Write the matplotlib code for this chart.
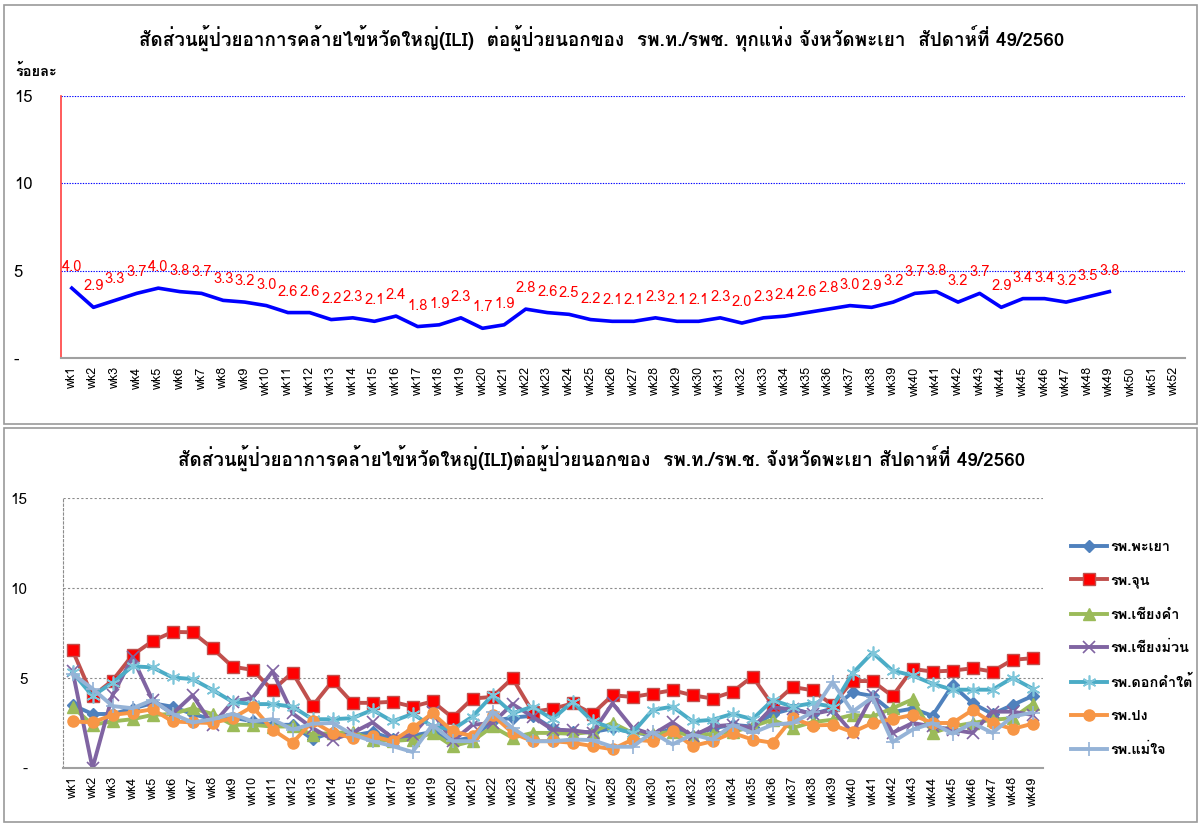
import matplotlib
matplotlib.use("Agg")
import matplotlib.pyplot as plt
from matplotlib import font_manager, ft2font
from matplotlib.patches import Rectangle
import numpy as np

# ---------- font with Thai glyphs ----------
def find_thai_family():
    found = []
    for fe in font_manager.fontManager.ttflist:
        try:
            f = ft2font.FT2Font(fe.fname)
            if 0x0E2A in f.get_charmap():
                found.append(fe.name)
        except Exception:
            pass
    return found

thai = find_thai_family()
fams = []
for n in thai:
    if n not in fams:
        fams.append(n)
plt.rcParams['font.family'] = (fams[:1] if fams else []) + ['DejaVu Sans']

# ---------- data ----------
weeks_top = [f"wk{i}" for i in range(1, 53)]
overall = [4.0, 2.9, 3.3, 3.7, 4.0, 3.8, 3.7, 3.3, 3.2, 3.0,
           2.6, 2.6, 2.2, 2.3, 2.1, 2.4, 1.8, 1.9, 2.3, 1.7,
           1.9, 2.8, 2.6, 2.5, 2.2, 2.1, 2.1, 2.3, 2.1, 2.1,
           2.3, 2.0, 2.3, 2.4, 2.6, 2.8, 3.0, 2.9, 3.2, 3.7,
           3.8, 3.2, 3.7, 2.9, 3.4, 3.4, 3.2, 3.5, 3.8]

weeks_bot = [f"wk{i}" for i in range(1, 50)]
phayao = [3.5, 3.0, 3.0, 3.3, 3.6, 3.4, 3.0, 2.7, 2.8, 2.6,
          2.4, 2.4, 1.6, 2.0, 1.8, 2.0, 1.6, 1.8, 2.0, 1.5,
          1.7, 2.6, 2.8, 2.9, 2.2, 2.0, 2.0, 2.2, 2.0, 1.8,
          2.2, 1.8, 2.2, 2.4, 2.3, 3.0, 3.3, 3.0, 3.3, 4.2,
          4.0, 3.1, 3.3, 2.9, 4.6, 3.6, 3.0, 3.5, 4.0]
chun = [6.54, 3.99, 4.86, 6.27, 7.05, 7.56, 7.54, 6.65, 5.63, 5.45,
        4.32, 5.30, 3.44, 4.83, 3.62, 3.62, 3.68, 3.41, 3.70, 2.80,
        3.86, 3.95, 4.99, 3.13, 3.28, 3.59, 3.01, 4.04, 3.95, 4.13,
        4.32, 4.04, 3.86, 4.23, 5.08, 3.50, 4.50, 4.32, 3.50, 4.83,
        4.83, 3.99, 5.50, 5.36, 5.41, 5.54, 5.36, 6.01, 6.10]
chiangkham = [3.41, 2.40, 2.59, 2.71, 2.95, 3.0, 3.32, 3.0, 2.40, 2.40,
              2.3, 2.31, 1.86, 1.95, 1.99, 1.58, 1.5, 1.58, 1.95, 1.22,
              1.49, 2.31, 1.68, 1.95, 1.95, 1.9, 2.0, 2.50, 1.95, 1.9,
              2.0, 1.8, 1.9, 2.0, 2.31, 2.68, 2.22, 2.55, 2.68, 2.95,
              2.86, 3.32, 3.81, 1.95, 2.31, 2.50, 2.68, 2.77, 3.55]
chiangmuan = [5.41, 0.0, 4.04, 6.14, 3.77, 3.01, 4.04, 2.40, 3.68, 3.9,
              5.37, 3.04, 2.22, 1.58, 1.95, 2.53, 1.68, 1.86, 3.1, 1.49,
              2.40, 2.50, 3.55, 2.86, 2.13, 2.09, 1.95, 3.59, 2.22, 1.86,
              2.53, 1.77, 2.31, 2.40, 2.22, 3.37, 3.26, 3.0, 3.22, 1.95,
              4.04, 1.95, 2.50, 2.31, 2.13, 1.95, 3.13, 3.13, 2.95]
dokkhamtai = [5.32, 4.0, 4.74, 5.65, 5.59, 5.03, 4.94, 4.34, 3.68, 3.55,
              3.55, 3.41, 2.71, 2.71, 2.77, 3.23, 2.59, 3.01, 2.31, 2.13,
              2.86, 4.04, 3.04, 3.41, 2.71, 3.68, 2.59, 2.22, 1.95, 3.22,
              3.41, 2.59, 2.68, 3.01, 2.71, 3.77, 3.41, 3.6, 3.41, 5.26,
              6.41, 5.41, 5.14, 4.68, 4.35, 4.35, 4.35, 5.01, 4.41]
pong = [2.59, 2.53, 2.95, 3.08, 3.26, 2.59, 2.53, 2.50, 2.77, 3.41,
        2.13, 1.40, 2.59, 1.95, 1.68, 1.77, 1.49, 2.22, 3.04, 2.04,
        1.77, 2.95, 1.95, 1.49, 1.49, 1.40, 1.22, 1.04, 1.58, 1.49,
        2.04, 1.22, 1.49, 1.95, 1.58, 1.40, 2.77, 2.36, 2.40, 1.99,
        2.50, 2.71, 2.95, 2.50, 2.50, 3.22, 2.50, 2.17, 2.46]
maechai = [5.23, 4.41, 3.44, 3.32, 3.77, 3.01, 2.53, 2.71, 3.01, 2.59,
           2.71, 2.13, 2.46, 2.50, 1.86, 1.49, 1.22, 0.89, 2.40, 1.49,
           1.49, 3.13, 2.22, 1.49, 1.49, 1.58, 1.55, 1.18, 1.18, 1.99,
           1.31, 1.86, 1.58, 2.40, 1.95, 2.40, 2.50, 3.1, 4.77, 3.13,
           3.92, 1.44, 2.13, 2.50, 1.91, 2.50, 1.95, 2.86, 3.08]

series_names = ["รพ.พะเยา", "รพ.จุน", "รพ.เชียงคำ", "รพ.เชียงม่วน",
                "รพ.ดอกคำใต้", "รพ.ปง", "รพ.แม่ใจ"]
series_vals = [phayao, chun, chiangkham, chiangmuan, dokkhamtai, pong, maechai]

yticks = [0, 5, 10, 15]
ytick_labels = ["-", "5", "10", "15"]

title_top = "สัดส่วนผู้ป่วยอาการคล้ายไข้หวัดใหญ่(ILI)  ต่อผู้ป่วยนอกของ  รพ.ท./รพช. ทุกแห่ง จังหวัดพะเยา  สัปดาห์ที่ 49/2560"
title_bot = "สัดส่วนผู้ป่วยอาการคล้ายไข้หวัดใหญ่(ILI)ต่อผู้ป่วยนอกของ  รพ.ท./รพ.ช. จังหวัดพะเยา สัปดาห์ที่ 49/2560"

W, H = 1202, 825
fig = plt.figure(figsize=(W / 100, H / 100), dpi=100)
fig.patch.set_facecolor("white")

def fx(px):
    return px / W

def fy(py):
    return 1 - py / H

# panel borders
for (x0, y0, x1, y1) in [(4, 5, 1197, 424), (4, 428, 1197, 822)]:
    fig.patches.append(Rectangle((fx(x0), fy(y1)), fx(x1 - x0), (y1 - y0) / H,
                                 transform=fig.transFigure, fill=False,
                                 edgecolor="#9a9a9a", lw=1.2))

# ---------- top chart ----------
ax1 = fig.add_axes([fx(61), fy(358), fx(1185 - 61), (358 - 96) / H])
xt = np.arange(1, len(weeks_top) + 1)
xo = np.arange(1, len(overall) + 1)
ax1.plot(xo, overall, color="#0000FF", lw=2.6, solid_joinstyle="round")
for x, v in zip(xo, overall):
    ax1.annotate(f"{v:.1f}", (x, v), xytext=(0, 10), textcoords="offset points",
                 ha="center", va="bottom", color="#FF0000", fontsize=10.5)
ax1.set_xlim(0.5, len(weeks_top) + 0.5)
ax1.set_ylim(0, 15)
ax1.set_xticks(xt)
ax1.set_xticklabels(weeks_top, rotation=90, fontsize=9)
ax1.set_yticks(yticks)
ax1.set_yticklabels(ytick_labels, fontsize=12)
ax1.tick_params(axis="y", length=0, pad=34)
for lab in ax1.get_yticklabels():
    lab.set_horizontalalignment("left")
ax1.tick_params(axis="x", length=0, pad=6)
for y in [5, 10, 15]:
    ax1.axhline(y, color="#0000FF", lw=0.8, ls=(0, (1.2, 1.2)), zorder=0)
ax1.spines["top"].set_visible(False)
ax1.spines["right"].set_visible(False)
ax1.spines["left"].set_color("#FF4040")
ax1.spines["left"].set_linewidth(1.2)
ax1.spines["bottom"].set_color("#A0A0A0")
ax1.spines["bottom"].set_linewidth(1.5)
fig.text(fx(602), fy(38), title_top, ha="center", va="center", fontsize=13.6,
         fontweight="bold")
fig.text(fx(15), fy(71), "ร้อยละ", ha="left", va="center", fontsize=10.5,
         fontweight="bold")

# ---------- bottom chart ----------
ax2 = fig.add_axes([fx(62.5), fy(768), fx(980), (768 - 498) / H])
xb = np.arange(1, len(weeks_bot) + 1)
styles = [
    dict(color="#4F81BD", marker="D", ms=6, mfc="#4F81BD", mec="#4F81BD"),
    dict(color="#C0504D", marker="s", ms=9, mfc="#FF0000", mec="#C0504D"),
    dict(color="#9BBB59", marker="^", ms=8, mfc="#9BBB59", mec="#9BBB59"),
    dict(color="#8064A2", marker="x", ms=9, mfc="#8064A2", mec="#8064A2", mew=1.2),
    dict(color="#4BACC6", marker=(6, 2, 0), ms=10, mfc="#4BACC6", mec="#7FC6DA", mew=1.2),
    dict(color="#F79646", marker="o", ms=8, mfc="#F79646", mec="#F79646"),
    dict(color="#95B3D7", marker="+", ms=10, mfc="#95B3D7", mec="#95B3D7", mew=1.2),
]
for name, vals, st in zip(series_names, series_vals, styles):
    ax2.plot(xb, vals, lw=2.8, label=name, solid_joinstyle="round", **st)
ax2.set_xlim(0.5, len(weeks_bot) + 0.5)
ax2.set_ylim(0, 15)
ax2.set_xticks(xb)
ax2.set_xticklabels(weeks_bot, rotation=90, fontsize=9)
ax2.set_yticks(yticks)
ax2.set_yticklabels(ytick_labels, fontsize=11)
ax2.tick_params(axis="y", length=0, pad=25)
ax2.tick_params(axis="x", length=0, pad=6)
for y in [5, 10, 15]:
    ax2.axhline(y, color="#8C8C8C", lw=0.8, ls=(0, (2, 2)), zorder=0)
ax2.spines["top"].set_visible(False)
ax2.spines["right"].set_visible(False)
ax2.spines["left"].set_color("#8C8C8C")
ax2.spines["left"].set_linestyle((0, (2, 2)))
ax2.spines["left"].set_linewidth(0.8)
ax2.spines["bottom"].set_color("#A0A0A0")
ax2.spines["bottom"].set_linewidth(1.5)
fig.text(fx(602), fy(458), title_bot, ha="center", va="center", fontsize=13.6,
         fontweight="bold")
leg = ax2.legend(loc="upper left", bbox_to_anchor=(fx(1058), fy(527)),
                 bbox_transform=fig.transFigure, frameon=False,
                 prop=dict(size=10.4, weight="bold"),
                 handlelength=2.5, labelspacing=1.35, handletextpad=0.25)

fig.savefig("out.png", dpi=100, facecolor="white")
